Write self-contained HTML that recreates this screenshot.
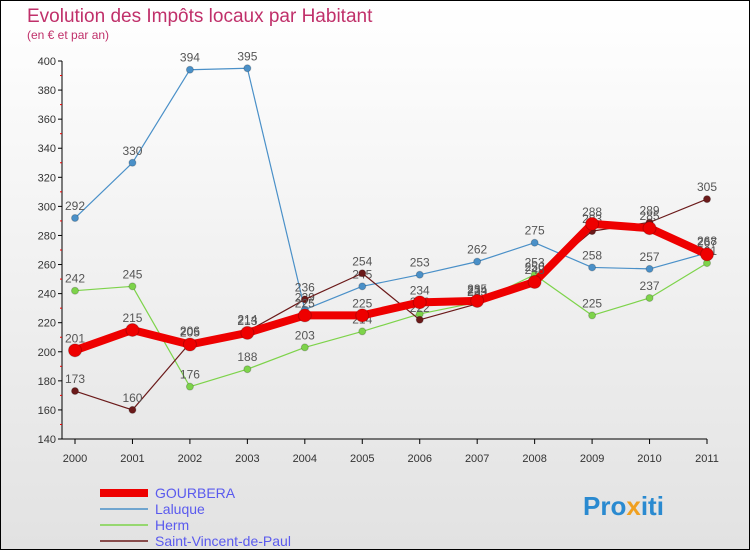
<!DOCTYPE html>
<html><head><meta charset="utf-8"><style>
body{margin:0;width:750px;height:550px;overflow:hidden;font-family:"Liberation Sans",sans-serif;}
#wrap{position:absolute;left:0;top:0;width:748px;height:548px;border:1px solid #000;background:linear-gradient(#fff,#e2e2e2);}
</style></head><body>
<div id="wrap">
<svg id="chart" width="750" height="550" style="position:absolute;left:-1px;top:-1px">
<text x="27" y="22" font-size="19" fill="#c0306a">Evolution des Impôts locaux par Habitant</text>
<text x="27" y="39" font-size="12" fill="#c0306a">(en € et par an)</text>
</svg>
</div>
<script>
const years=["2000","2001","2002","2003","2004","2005","2006","2007","2008","2009","2010","2011"];
const yTicks=[140,160,180,200,220,240,260,280,300,320,340,360,380,400];
const gourbera=[201,215,205,213,225,225,234,235,248,288,285,267];
const laluque=[292,330,394,395,229,245,253,262,275,258,257,268];
const herm=[242,245,176,188,203,214,226,234,253,225,237,261];
const svp=[173,160,206,214,236,254,222,233,250,283,289,305];
const names=["GOURBERA","Laluque","Herm","Saint-Vincent-de-Paul"];
const svg=document.getElementById('chart');const NS="http://www.w3.org/2000/svg";
function X(i){return 75+i*(707-75)/11;}
function Y(v){return 439-(v-140)*(439-61)/260;}
function mk(t,a,p){const e=document.createElementNS(NS,t);for(const k in a)e.setAttribute(k,a[k]);(p||svg).appendChild(e);return e;}
let ax=mk('line',{x1:62,y1:61,x2:62,y2:439,stroke:'#000'});


let bx=mk('line',{x1:62,y1:439,x2:707,y2:439,stroke:'#000'});


yTicks.forEach(v=>{mk('line',{x1:58,y1:Y(v),x2:62,y2:Y(v),stroke:'#000'});
 if(v<400)mk('line',{x1:60,y1:Y(v+10),x2:62,y2:Y(v+10),stroke:'#e00'});
 const t=mk('text',{x:56,y:Y(v)+4,'font-size':11,'text-anchor':'end',fill:'#333'});t.textContent=v;
 
 });
years.forEach((y,i)=>{mk('line',{x1:X(i),y1:439,x2:X(i),y2:444,stroke:'#000'});
 const t=mk('text',{x:X(i),y:462,'font-size':11,'text-anchor':'middle',fill:'#333'});t.textContent=y;
 
 });
const series=[[laluque,'#4a90c8',1.2,3.5],[herm,'#7dd34a',1.2,3.5],[svp,'#6b1a1a',1.2,3.5],[gourbera,'#ee0000',8,6.5]];
series.forEach(([d,c,w,r],si)=>{
 const g=mk('g',{});
 
 
 mk('polyline',{points:d.map((v,i)=>X(i)+','+Y(v)).join(' '),fill:'none',stroke:c,'stroke-width':w,'stroke-linejoin':'round'},g);
 d.forEach((v,i)=>{const p=mk('circle',{cx:X(i),cy:Y(v),r:r,fill:c,stroke:'rgba(0,0,0,0.2)'},g);
  
  
  const t=mk('text',{x:X(i),y:Y(v)-8,'font-size':12,'text-anchor':'middle',fill:'#555'},g);t.textContent=v;});
});
const lc=['#ee0000','#4a90c8','#7dd34a','#6b1a1a'];const lw=[8,1.5,1.5,1.5];
names.forEach((n,i)=>{const y=493+i*16;
 const l=mk('line',{x1:100,y1:y,x2:148,y2:y,stroke:lc[i],'stroke-width':lw[i]});
 
 
 const t=mk('text',{x:155,y:y+5,'font-size':14,fill:'#5a5aee'});t.textContent=n;
 
 });
const logo=mk('text',{x:583,y:515,'font-size':26,'font-weight':'bold',fill:'#2a8ad0'});


[['Pro','#2a8ad0'],['x','#f0a020'],['iti','#2a8ad0']].forEach(([s,c])=>{const ts=mk('tspan',{fill:c},logo);ts.textContent=s;});
</script>
</body></html>
